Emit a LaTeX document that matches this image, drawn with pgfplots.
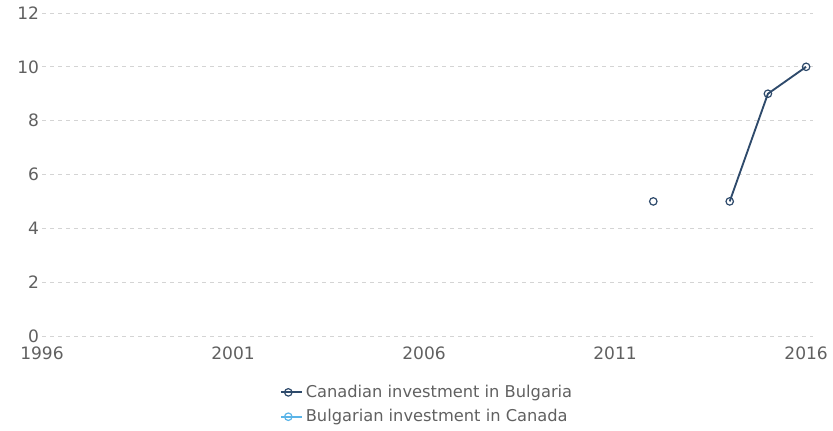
\documentclass[border=0pt]{standalone}
\usepackage{fontspec}
\setmainfont{DejaVu Sans}
\usepackage{pgfplots}
\pgfplotsset{compat=1.18}
\definecolor{navy}{HTML}{2E4A6B}
\definecolor{lblue}{HTML}{5AB4E8}
\definecolor{tickgray}{HTML}{606060}
\definecolor{gridgray}{HTML}{D4D4D4}
\begin{document}
\begin{tikzpicture}[x=0.75pt,y=0.75pt]
\useasboundingbox (0,0) rectangle (833,431);
\begin{axis}[
  at={(42pt*0.75,95pt*0.75)}, anchor=south west,
  scale only axis, width=771*0.75pt, height=323*0.75pt,
  xmin=1996, xmax=2016.18, ymin=0, ymax=12,
  xtick={1996,2001,2006,2011,2016},
  ytick={0,2,4,6,8,10,12},
  xticklabel style={/pgf/number format/1000 sep={}, yshift=-7pt},
  yticklabel style={xshift=-1pt},
  /pgf/number format/assume math mode=true,
  tick label style={font=\fontsize{12.8}{14}\selectfont, text=tickgray, inner sep=1pt},
  axis line style={draw=none},
  major tick length=0pt,
  ymajorgrids, grid style={gridgray, dashed, line width=0.6pt},
  clip=false,
  legend style={at={(0.5,-0.135)}, anchor=north, draw=none, fill=none,
    font=\fontsize{12.2}{14}\selectfont, text=tickgray, row sep=3.5pt,
    legend cell align=left},
  legend image code/.code={\draw[mark repeat=2,mark phase=2,#1] plot coordinates {(0cm,0cm) (0.19cm,0cm) (0.38cm,0cm)};
    \path (0.38cm,0) -- (0.38cm+5pt,0);},
]
\addplot[navy, line width=1.4pt, mark=o, mark size=2.8pt,
  mark options={fill=white, line width=0.9pt}, unbounded coords=jump]
  coordinates {(2012,5) (2013,nan) (2014,5) (2015,9) (2016,10)};
\addlegendentry{Canadian investment in Bulgaria}
\addlegendimage{lblue, line width=1.4pt, mark=o, mark size=2.8pt, mark options={fill=white, line width=0.9pt}}
\addlegendentry{Bulgarian investment in Canada}
\end{axis}
\end{tikzpicture}
\end{document}
